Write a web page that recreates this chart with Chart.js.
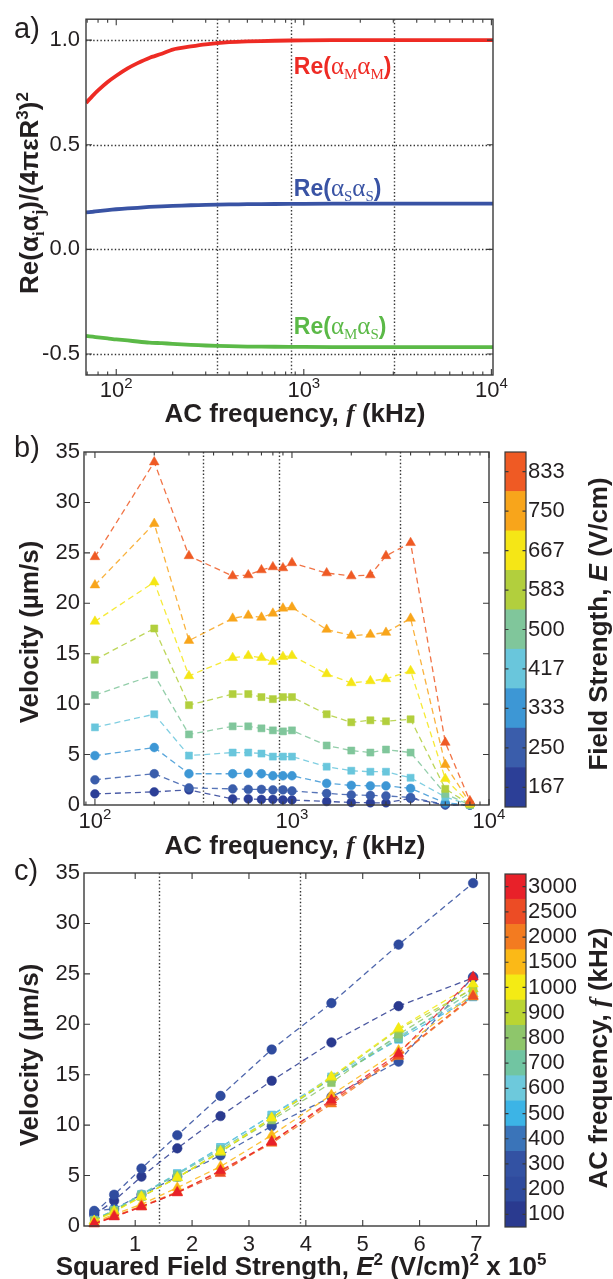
<!DOCTYPE html>
<html>
<head>
<meta charset="utf-8">
<script src="https://cdn.jsdelivr.net/npm/chart.js@4.4.1/dist/chart.umd.min.js"></script>
<style>
html, body { margin: 0; padding: 0; background: #fff; overflow: hidden; }
#wrap { position: relative; width: 613px; height: 1279px; }
canvas { position: absolute; }
</style>
</head>
<body>
<div id="wrap">
  <canvas id="chartA" width="613" height="440" style="left:0px;top:0px"></canvas>
  <canvas id="chartB" width="613" height="440" style="left:0px;top:425px"></canvas>
  <canvas id="barB" width="115" height="400" style="left:498px;top:430px"></canvas>
  <canvas id="chartC" width="613" height="434" style="left:0px;top:845px"></canvas>
  <canvas id="barC" width="115" height="400" style="left:498px;top:850px"></canvas>
</div>
<script>
// ---- panel a: normalised polarisability products vs frequency
const freqA = [69, 75, 80, 90, 100, 115, 130, 150, 175, 200, 250, 300, 400, 500, 700, 1000, 2000, 5000, 10200];
const reMM = [0.70, 0.735, 0.76, 0.80, 0.83, 0.865, 0.89, 0.915, 0.935, 0.955, 0.97, 0.98, 0.99, 0.994, 0.997, 0.999, 1.0, 1.0, 1.0];
const reSS = [0.177, 0.180, 0.183, 0.188, 0.192, 0.196, 0.199, 0.203, 0.206, 0.208, 0.211, 0.213, 0.215, 0.216, 0.217, 0.218, 0.219, 0.219, 0.219];
const reMS = [-0.413, -0.417, -0.420, -0.425, -0.430, -0.435, -0.440, -0.445, -0.448, -0.451, -0.456, -0.459, -0.462, -0.464, -0.465, -0.466, -0.467, -0.467, -0.467];

// ---- panel b: velocity vs frequency, one row per field strength
const freqB = [100, 200, 300, 500, 600, 700, 800, 900, 1000, 1500, 2000, 2500, 3000, 4000, 6000, 8000];
const fieldE = [167, 250, 333, 417, 500, 583, 667, 750, 833];
const vel167 = [1.1, 1.3, 1.5, 0.6, 0.6, 0.55, 0.55, 0.5, 0.5, 0.35, 0.25, 0.22, 0.22, 0.65, 0.0, 0.0];
const vel250 = [2.5, 3.1, 1.7, 1.6, 1.55, 1.55, 1.5, 1.5, 1.4, 1.15, 1.0, 0.95, 0.9, 0.75, 0.05, 0.0];
const vel333 = [4.9, 5.7, 3.1, 3.1, 3.15, 3.1, 2.9, 2.9, 2.9, 2.15, 1.95, 1.9, 1.9, 1.65, 0.2, 0.0];
const vel417 = [7.7, 9.0, 4.9, 5.2, 5.2, 5.1, 4.8, 4.8, 4.8, 3.8, 3.4, 3.3, 3.3, 2.7, 0.8, 0.0];
const vel500 = [10.9, 12.9, 7.0, 7.8, 7.8, 7.6, 7.4, 7.3, 7.4, 5.9, 5.4, 5.2, 5.5, 5.2, 1.1, 0.0];
const vel583 = [14.4, 17.5, 9.9, 11.0, 11.0, 10.7, 10.5, 10.7, 10.7, 9.0, 8.2, 8.4, 8.3, 8.5, 1.6, 0.05];
const vel667 = [18.2, 22.1, 12.8, 14.6, 14.8, 14.6, 14.2, 14.7, 14.8, 13.0, 12.1, 12.3, 12.5, 13.3, 2.6, 0.1];
const vel750 = [21.8, 27.9, 16.3, 18.5, 18.8, 18.6, 19.0, 19.5, 19.6, 17.4, 16.8, 16.9, 17.1, 18.5, 4.0, 0.2];
const vel833 = [24.6, 34.0, 24.7, 22.7, 22.8, 23.3, 23.6, 23.5, 24.0, 23.0, 22.7, 22.8, 24.7, 26.0, 6.2, 0.4];
const velB = [vel167, vel250, vel333, vel417, vel500, vel583, vel667, vel750, vel833];

// ---- panel c: same velocities vs squared field strength, one series per frequency
const e2 = [0.28, 0.63, 1.11, 1.74, 2.50, 3.40, 4.45, 5.63, 6.94];
const freqC = [100, 200, 300, 500, 600, 700, 800, 900, 1000, 1500, 2000, 2500, 3000];
const cbFreq = [100, 200, 300, 400, 500, 600, 700, 800, 900, 1000, 1500, 2000, 2500, 3000];

// reference lines
const refA = [344, 856, 3015];
const refB = [353, 863, 3525];
const refC = [1.41, 3.9];

// styles
const colorE = ['#2c3f97', '#3a5dab', '#3d97d5', '#69c6dc', '#80c69b', '#b2cf3d', '#f5e616', '#f8a51b', '#ef5a24'];
const shapeE = ['circle', 'circle', 'circle', 'rect', 'rect', 'rect', 'triangle', 'triangle', 'triangle'];
const colorF = ['#2a3a8f', '#2f4b9e', '#3352a3', '#3a74b9', '#3cb4e6', '#6dc9dc', '#71c5a2', '#8ec66b',
                '#bad532', '#f4eb14', '#fbb917', '#f37b20', '#ec4c25', '#e82129'];

const SANS = '"Liberation Sans", Arial, Helvetica, sans-serif';
const SERIF = '"Liberation Serif", "Times New Roman", serif';
const INK = '#231f20';
const B26 = 'bold 26px ' + SANS;
const B17 = 'bold 17px ' + SANS;

function rgba(hex, a) {
  const n = parseInt(hex.slice(1), 16);
  return 'rgba(' + (n >> 16) + ',' + ((n >> 8) & 255) + ',' + (n & 255) + ',' + a + ')';
}

function drawRich(ctx, x, y, segs, opt) {
  opt = opt || {};
  ctx.save();
  ctx.translate(x, y);
  if (opt.rotate) ctx.rotate(-Math.PI / 2);
  let w = 0;
  segs.forEach(s => { ctx.font = s.f; w += ctx.measureText(s.t).width; });
  let cx = opt.align === 'center' ? -w / 2 : 0;
  ctx.textAlign = 'left';
  ctx.textBaseline = 'alphabetic';
  segs.forEach(s => {
    ctx.font = s.f;
    ctx.fillStyle = s.c || opt.color || INK;
    ctx.fillText(s.t, cx, s.dy || 0);
    cx += ctx.measureText(s.t).width;
  });
  ctx.restore();
}

function logMinor(lo, hi) {
  const out = [];
  for (let d = 10; d <= 10000; d *= 10)
    for (let k = 2; k <= 9; k++) { const v = k * d; if (v > lo && v < hi) out.push(v); }
  return out;
}

const deco = {
  id: 'deco',
  beforeDatasetsDraw(chart, args, o) {
    const { ctx, chartArea: a } = chart;
    const xs = chart.scales.x, ys = chart.scales.y;
    ctx.save();
    ctx.strokeStyle = '#333';
    ctx.lineWidth = 1.4;
    ctx.setLineDash([1.4, 2.2]);
    ctx.beginPath();
    (o.vLines || []).forEach(v => {
      const p = Math.round(xs.getPixelForValue(v)) + 0.5;
      ctx.moveTo(p, a.top); ctx.lineTo(p, a.bottom);
    });
    (o.hLines || []).forEach(v => {
      const p = Math.round(ys.getPixelForValue(v)) + 0.5;
      ctx.moveTo(a.left, p); ctx.lineTo(a.right, p);
    });
    ctx.stroke();
    ctx.restore();
  },
  afterDraw(chart, args, o) {
    const { ctx, chartArea: a } = chart;
    const xs = chart.scales.x, ys = chart.scales.y;
    ctx.save();
    ctx.setLineDash([]);
    ctx.strokeStyle = '#3a3a3a';
    ctx.lineWidth = 1.4;
    ctx.strokeRect(a.left, a.top, a.right - a.left, a.bottom - a.top);
    ctx.beginPath();
    const tx = (vals, len) => vals.forEach(v => {
      const p = xs.getPixelForValue(v);
      ctx.moveTo(p, a.bottom); ctx.lineTo(p, a.bottom - len);
      ctx.moveTo(p, a.top); ctx.lineTo(p, a.top + len);
    });
    const ty = (vals, len) => vals.forEach(v => {
      const p = ys.getPixelForValue(v);
      ctx.moveTo(a.left, p); ctx.lineTo(a.left + len, p);
      ctx.moveTo(a.right, p); ctx.lineTo(a.right - len, p);
    });
    tx(o.xMajor || [], 6);
    tx(o.xMinor || [], 3.5);
    ty(o.yMajor || [], 6);
    ctx.lineWidth = 1.1;
    ctx.stroke();
    (o.xPow || []).forEach(v => {
      const p = xs.getPixelForValue(v);
      drawRich(ctx, p, o.xPowY, [
        { t: '10', f: '22px ' + SANS },
        { t: String(Math.round(Math.log10(v))), f: '15px ' + SANS, dy: -9 }
      ], { align: 'center' });
    });
    (o.notes || []).forEach(n => {
      drawRich(ctx, xs.getPixelForValue(n.x), ys.getPixelForValue(n.y), n.segs, { color: n.c });
    });
    (o.texts || []).forEach(t => drawRich(ctx, t.x, t.y, t.segs, t));
    ctx.restore();
  }
};

const cbar = {
  id: 'cbar',
  afterDraw(chart, args, o) {
    const { ctx, chartArea: a } = chart;
    const ys = chart.scales.y;
    ctx.save();
    ctx.strokeStyle = '#3a3a3a';
    ctx.lineWidth = 1.2;
    ctx.strokeRect(a.left, a.top, a.right - a.left, a.bottom - a.top);
    ctx.beginPath();
    ys.ticks.forEach(t => {
      const p = ys.getPixelForValue(t.value);
      ctx.moveTo(a.left, p); ctx.lineTo(a.left + 3.5, p);
      ctx.moveTo(a.right, p); ctx.lineTo(a.right - 3.5, p);
    });
    ctx.stroke();
    drawRich(ctx, o.titleX, o.titleY, o.title, { align: 'center', rotate: true });
    ctx.restore();
  }
};

function panelOptions(W, H, area, xs, ys, decoOpts) {
  return {
    responsive: false,
    animation: false,
    devicePixelRatio: 1,
    layout: { padding: { left: 0, top: area.top, right: W - area.right, bottom: 0 } },
    plugins: { legend: { display: false }, tooltip: { enabled: false }, deco: decoOpts },
    scales: {
      x: Object.assign({ grid: { display: false, drawTicks: false }, border: { display: false },
                         afterFit: s => { s.height = H - area.bottom; } }, xs),
      y: Object.assign({ grid: { display: false, drawTicks: false }, border: { display: false },
                         afterFit: s => { s.width = area.left; } }, ys)
    }
  };
}

const yTicks = (vals, pad, fmt) => ({
  afterBuildTicks: s => { s.ticks = vals.map(v => ({ value: v })); },
  ticks: { padding: pad, color: INK, font: { family: SANS, size: 22 }, callback: fmt, autoSkip: false }
});

const xTitleFreq = [
  { t: 'AC frequency, ', f: B26 },
  { t: 'f', f: 'italic bold 26px ' + SERIF },
  { t: ' (kHz)', f: B26 }
];
const velTitle = [{ t: 'Velocity (µm/s)', f: B26 }];

// ---------- panel a
const lineSet = (vals, color) => ({
  data: freqA.map((f, i) => ({ x: f, y: vals[i] })),
  showLine: true, borderColor: color, borderWidth: 3.8, pointRadius: 0, tension: 0.2
});
const noteSegs = (a, b) => [
  { t: 'Re(', f: 'bold 23px ' + SANS },
  { t: 'α', f: '25px ' + SERIF },
  { t: a, f: '15px ' + SERIF, dy: 5 },
  { t: 'α', f: '25px ' + SERIF },
  { t: b, f: '15px ' + SERIF, dy: 5 },
  { t: ')', f: 'bold 23px ' + SANS }
];

new Chart(document.getElementById('chartA'), {
  type: 'scatter',
  data: { datasets: [lineSet(reMM, '#ee2b24'), lineSet(reSS, '#3953a4'), lineSet(reMS, '#5bb947')] },
  options: panelOptions(613, 440, { left: 86, top: 11, right: 493, bottom: 375 },
    { type: 'logarithmic', min: 69, max: 10200, ticks: { display: false } },
    Object.assign({ type: 'linear', min: -0.6, max: 1.1 }, yTicks([-0.5, 0, 0.5, 1.0], 6, v => v.toFixed(1))),
    {
      vLines: refA, hLines: [-0.5, 0, 0.5, 1.0],
      xMajor: [100, 1000, 10000], xMinor: logMinor(69, 10200), yMajor: [-0.5, 0, 0.5, 1.0],
      xPow: [100, 1000, 10000], xPowY: 397,
      notes: [
        { x: 885, y: 0.838, c: '#ee2b24', segs: noteSegs('M', 'M') },
        { x: 885, y: 0.255, c: '#3953a4', segs: noteSegs('S', 'S') },
        { x: 885, y: -0.404, c: '#5bb947', segs: noteSegs('M', 'S') }
      ],
      texts: [
        { x: 14, y: 38, segs: [{ t: 'a)', f: '29px ' + SANS }] },
        { x: 295, y: 422, align: 'center', segs: xTitleFreq },
        { x: 38, y: 193, align: 'center', rotate: true, segs: [
          { t: 'Re(α', f: B26 }, { t: 'i', f: 'bold 17px ' + SERIF, dy: 6 },
          { t: 'α', f: B26 }, { t: 'j', f: 'bold 17px ' + SERIF, dy: 6 },
          { t: ')/(4πεR', f: B26 }, { t: '3', f: B17, dy: -10 },
          { t: ')', f: B26 }, { t: '2', f: B17, dy: -10 }
        ] }
      ]
    }),
  plugins: [deco]
});

// ---------- panel b
const markerSize = { circle: 4.4, rect: 5, triangle: 5.6 };
const dsB = fieldE.map((e, i) => ({
  label: e + ' V/cm',
  data: freqB.map((f, j) => ({ x: f, y: velB[i][j] })),
  showLine: true, borderColor: rgba(colorE[i], 0.85), borderWidth: 1.3, borderDash: [6, 4],
  pointStyle: shapeE[i], pointRadius: markerSize[shapeE[i]],
  pointBackgroundColor: colorE[i], pointBorderColor: colorE[i], pointBorderWidth: 0.5,
  clip: false
})).reverse();

new Chart(document.getElementById('chartB'), {
  type: 'scatter',
  data: { datasets: dsB },
  options: panelOptions(613, 440, { left: 84, top: 27, right: 489, bottom: 380 },
    { type: 'logarithmic', min: 88, max: 10000, ticks: { display: false } },
    Object.assign({ type: 'linear', min: 0, max: 35 }, yTicks([0, 5, 10, 15, 20, 25, 30, 35], 4, v => String(v))),
    {
      vLines: refB,
      xMajor: [100, 1000, 10000], xMinor: logMinor(88, 10000), yMajor: [5, 10, 15, 20, 25, 30],
      xPow: [100, 1000, 10000], xPowY: 403,
      texts: [
        { x: 14, y: 32, segs: [{ t: 'b)', f: '29px ' + SANS }] },
        { x: 295, y: 429, align: 'center', segs: xTitleFreq },
        { x: 38, y: 207, align: 'center', rotate: true, segs: velTitle }
      ]
    }),
  plugins: [deco]
});

// ---------- panel c
const shapeF = f => (f <= 400 ? 'circle' : f <= 800 ? 'rect' : 'triangle');
const sizeC = { circle: 4.8, rect: 5.4, triangle: 6 };
const dsC = freqC.map(f => {
  const j = freqB.indexOf(f);
  const col = colorF[cbFreq.indexOf(f)];
  return {
    label: f + ' kHz',
    data: e2.map((x, i) => ({ x: x, y: velB[i][j] })),
    showLine: true, borderColor: rgba(col, 0.85), borderWidth: 1.3, borderDash: [6, 4],
    pointStyle: shapeF(f), pointRadius: sizeC[shapeF(f)],
    pointBackgroundColor: col, pointBorderColor: col, pointBorderWidth: 0.5,
    clip: false
  };
}).reverse();

new Chart(document.getElementById('chartC'), {
  type: 'scatter',
  data: { datasets: dsC },
  options: panelOptions(613, 434, { left: 84, top: 28, right: 489, bottom: 381 },
    Object.assign({ type: 'linear', min: 0.1, max: 7.22 }, {
      afterBuildTicks: s => { s.ticks = [1, 2, 3, 4, 5, 6, 7].map(v => ({ value: v })); },
      ticks: { padding: 6, color: INK, font: { family: SANS, size: 22 }, maxRotation: 0, autoSkip: false }
    }),
    Object.assign({ type: 'linear', min: 0, max: 35 }, yTicks([0, 5, 10, 15, 20, 25, 30, 35], 4, v => String(v))),
    {
      vLines: refC,
      xMajor: [1, 2, 3, 4, 5, 6, 7], yMajor: [5, 10, 15, 20, 25, 30],
      texts: [
        { x: 14, y: 35, segs: [{ t: 'c)', f: '29px ' + SANS }] },
        { x: 301, y: 430, align: 'center', segs: [
          { t: 'Squared Field Strength, ', f: B26 },
          { t: 'E', f: 'italic bold 26px ' + SANS }, { t: '2', f: B17, dy: -10 },
          { t: ' (V/cm)', f: B26 }, { t: '2', f: B17, dy: -10 },
          { t: ' x 10', f: B26 }, { t: '5', f: B17, dy: -10 }
        ] },
        { x: 38, y: 210, align: 'center', rotate: true, segs: velTitle }
      ]
    }),
  plugins: [deco]
});

// ---------- colour bars
function colorbar(id, labels, colors, area, H, W, title, titleY) {
  new Chart(document.getElementById(id), {
    type: 'bar',
    data: {
      labels: [''],
      datasets: labels.map((l, i) => ({
        label: String(l), data: [1], backgroundColor: colors[i],
        borderWidth: 0, barPercentage: 1, categoryPercentage: 1
      }))
    },
    options: {
      responsive: false, animation: false, devicePixelRatio: 1,
      layout: { padding: { left: area.left, top: area.top, right: 0, bottom: H - area.bottom } },
      plugins: { legend: { display: false }, tooltip: { enabled: false },
                 cbar: { title: title, titleX: 109, titleY: titleY } },
      scales: {
        x: { stacked: true, display: false },
        y: {
          stacked: true, position: 'right', min: 0, max: labels.length,
          afterBuildTicks: s => { s.ticks = labels.map((l, i) => ({ value: i + 0.5 })); },
          afterFit: s => { s.width = W - area.right; },
          grid: { display: false, drawTicks: false }, border: { display: false },
          ticks: { padding: 2, color: INK, font: { family: SANS, size: 22 }, autoSkip: false,
                   callback: v => String(labels[Math.floor(v)]) }
        }
      }
    },
    plugins: [cbar]
  });
}

colorbar('barB', fieldE, colorE, { left: 7, top: 22, right: 28, bottom: 377 }, 400, 115, [
  { t: 'Field Strength, ', f: B26 }, { t: 'E', f: 'italic bold 26px ' + SANS }, { t: ' (V/cm)', f: B26 }
], 194);

colorbar('barC', cbFreq, colorF, { left: 7, top: 24, right: 28, bottom: 377 }, 400, 115, xTitleFreq, 208);
</script>
</body>
</html>
